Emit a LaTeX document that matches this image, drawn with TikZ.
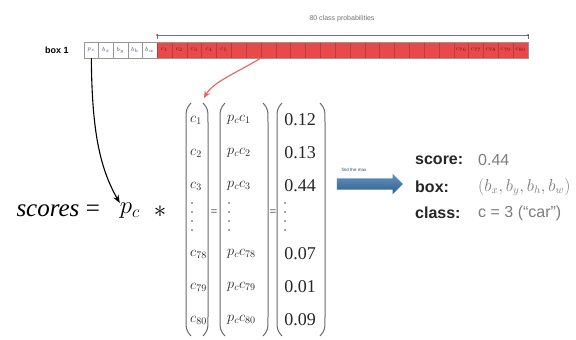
\documentclass[tikz,border=0pt]{standalone}
\usepackage{fontspec}
\setmainfont{Liberation Serif}
\newfontfamily\sansf{Liberation Sans}
\usetikzlibrary{arrows.meta,shapes.arrows}
\definecolor{barred}{RGB}{232,74,74}
\definecolor{barline}{RGB}{150,150,150}
\definecolor{parcol}{RGB}{105,105,105}
\definecolor{arrowblue}{RGB}{52,112,168}
\definecolor{valgray}{RGB}{125,125,125}
\definecolor{redarrow}{RGB}{236,96,96}
\definecolor{celltext}{RGB}{70,80,110}
\definecolor{redtext}{RGB}{120,20,20}
\begin{document}
\begin{tikzpicture}[x=1pt,y=-1pt,
  wcell/.style={draw=barline,line width=0.4pt,minimum width=14.6pt,minimum height=16pt,inner sep=0pt,text=celltext,font=\fontsize{6}{6}\selectfont},
  rcell/.style={fill=barred,draw=barred!80!black,line width=0.3pt,minimum width=14.84pt,minimum height=16pt,inner sep=0pt,text=redtext,font=\fontsize{6}{6}\selectfont},
  paren/.style={draw=parcol,line width=1pt},
  entry/.style={inner sep=0pt,text=black!85,font=\fontsize{14}{14}\selectfont},
  numentry/.style={inner sep=0pt,text=black!85,font=\fontsize{18}{18}\selectfont},
  dotmark/.style={fill=black!70},
  bigtext/.style={inner sep=0pt,font=\fontsize{25}{25}\selectfont},
  lab/.style={anchor=west,inner sep=0pt,text=black!85,font=\sansf\bfseries\fontsize{16}{16}\selectfont},
  val/.style={anchor=west,inner sep=0pt,text=valgray,font=\sansf\fontsize{16}{16}\selectfont}]
\useasboundingbox (0,0) rectangle (576,340);
\fill[white] (0,0) rectangle (576,340);

% top bar
\node[inner sep=0pt,font=\sansf\bfseries\fontsize{9}{9}\selectfont] (boxlabel) at (57,50) {box 1};
\foreach \i/\t in {0/p_c,1/b_x,2/b_y,3/b_h,4/b_w}
  \node[wcell] (w\i) at ({84+14.6*(\i+0.5)},50) {$\t$};
\foreach \i in {5,...,19}
  \node[rcell] (r\i) at ({157+14.84*(\i+0.5)},50) {};
\foreach \i/\t in {0/1,1/2,2/3,3/4,4/5}
  \node[rcell] (r\i) at ({157+14.84*(\i+0.5)},50) {$c_{\t}$};
\foreach \i/\t in {20/76,21/77,22/78,23/79,24/80}
  \node[rcell] (r\i) at ({157+14.84*(\i+0.5)},50) {$c_{\t}$};
\draw[barline,line width=0.5pt] (w0.north west) rectangle (r24.south east);

% bracket for class probabilities
\coordinate (bl) at (157,35);
\coordinate (br) at (528,35);
\draw[black!55,line width=0.6pt] (bl) ++(0,4) -- (bl) -- (br) -- ++(0,4);
\fill[black!70] (bl) circle (1pt) (br) circle (1pt);
\node[inner sep=0pt,text=black!55,font=\sansf\fontsize{7}{7}\selectfont] (probs) at (342,19) {80 class probabilities};

% equation
\node[bigtext,font=\itshape\fontsize{25}{25}\selectfont] (scores) at (48,211) {scores};
\node[bigtext] (eq0) at (93,211) {=};
\node[bigtext] (pc) at (130,211) {$p_c$};
\node[bigtext] (star) at (160,212) {$\ast$};

% rows
\def\rowA{120}\def\rowB{153}\def\rowC{186}\def\rowE{254}\def\rowF{287}\def\rowG{320}
% matrix 1
\foreach \n/\y/\t in {1/\rowA/1,2/\rowB/2,3/\rowC/3,5/\rowE/78,6/\rowF/79,7/\rowG/80}
  \node[entry,anchor=west] (ma\n) at (190,\y) {$c_{\t}$};
\foreach \y in {203,212,221,230} \fill[dotmark] (192,\y) circle (0.9pt);
\draw[paren] (191,103) .. controls (186,109) .. (186,123) -- (186,316) .. controls (186,330) .. (191,336);
\draw[paren] (203,103) .. controls (208,109) .. (208,123) -- (208,316) .. controls (208,330) .. (203,336);
\node[entry,font=\fontsize{12}{12}\selectfont] (eq1) at (214,213) {=};
% matrix 2
\foreach \n/\y/\t in {1/\rowA/1,2/\rowB/2,3/\rowC/3,5/\rowE/78,6/\rowF/79,7/\rowG/80}
  \node[entry,anchor=west] (mb\n) at (227,\y) {$p_c c_{\t}$};
\foreach \y in {203,212,221,230} \fill[dotmark] (229,\y) circle (0.9pt);
\draw[paren] (225,103) .. controls (220,109) .. (220,123) -- (220,316) .. controls (220,330) .. (225,336);
\draw[paren] (263,103) .. controls (268,109) .. (268,123) -- (268,316) .. controls (268,330) .. (263,336);
\node[entry,font=\fontsize{12}{12}\selectfont] (eq2) at (273,213) {=};
% matrix 3
\foreach \n/\y/\t in {1/\rowA/0.12,2/\rowB/0.13,3/\rowC/0.44,5/\rowE/0.07,6/\rowF/0.01,7/\rowG/0.09}
  \node[numentry] (mc\n) at (300,\y) {\t};
\foreach \y in {203,212,221,230} \fill[dotmark] (285,\y) circle (0.9pt);
\draw[paren] (282,103) .. controls (277,109) .. (277,123) -- (277,316) .. controls (277,330) .. (282,336);
\draw[paren] (320,103) .. controls (325,109) .. (325,123) -- (325,316) .. controls (325,330) .. (320,336);

% arrows from bar
\draw[black,line width=1.1pt,-{Stealth[length=8pt,width=6pt]}] (w0.south) .. controls (92,125) and (98,165) .. (pc.north west);
\coordinate (m1tip) at (204,98);
\draw[redarrow,line width=1.1pt,-{Stealth[length=7pt,width=6pt]}] (r7.south west) .. controls (238,72) and (213,82) .. (m1tip);

% blue arrow
\node[single arrow,draw=none,top color=arrowblue!75!white,bottom color=arrowblue!85!black,minimum height=66pt,inner xsep=0pt,inner ysep=5.5pt,single arrow head extend=4.5pt,single arrow head indent=0pt] (barrow) at (367,184) {};
\node[inner sep=0pt,text=arrowblue!70!black,font=\sansf\fontsize{4.5}{4.5}\selectfont] (findmax) at (354,170) {find the max};

% result text
\node[lab] (lscore) at (415,160) {score:};
\node[lab] (lbox) at (415,187) {box:};
\node[lab] (lclass) at (415,213) {class:};
\node[val] (vscore) at (478,160) {0.44};
\node[val,font=\fontsize{16}{16}\selectfont] (vbox) at (478,187) {$(b_x, b_y, b_h, b_w)$};
\node[val] (vclass) at (478,213) {c = 3 (“car”)};
\end{tikzpicture}
\end{document}
